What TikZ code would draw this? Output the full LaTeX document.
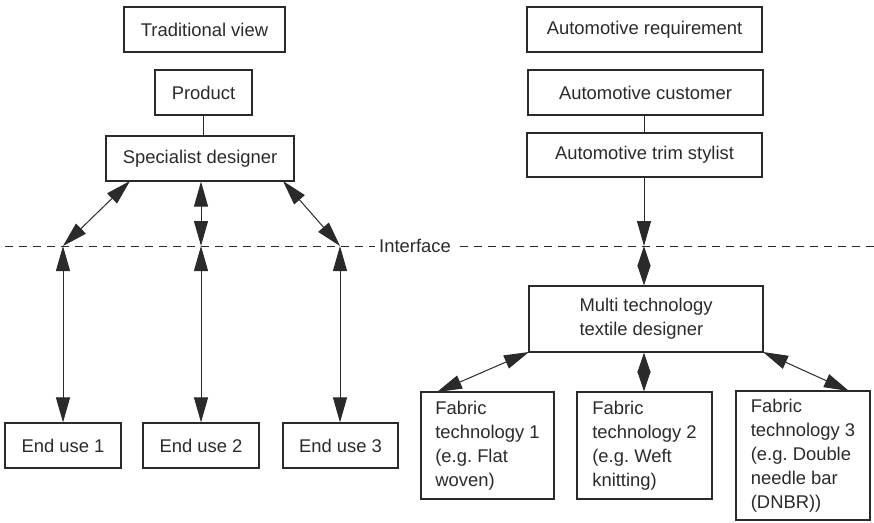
\documentclass[tikz,border=0pt]{standalone}
\usepackage{fontspec}
\setmainfont{Liberation Sans}
\frenchspacing
\usetikzlibrary{arrows.meta}
\definecolor{ink}{HTML}{2A2A2A}
\tikzset{
  box/.style={draw=ink, line width=1.2pt, inner sep=0pt, text=ink,
    font=\fontsize{18.4}{24}\selectfont},
  lbox/.style={box, align=left},
  conn/.style={draw=ink, line width=1pt},
  arr/.style={conn, -{Triangle[length=25pt,width=14pt]}},
  darr/.style={conn, {Triangle[length=25pt,width=14pt]}-{Triangle[length=25pt,width=14pt]}},
  sarr/.style={conn, {Triangle[length=20pt,width=13pt]}-{Triangle[length=20pt,width=13pt]}},
  iface/.style={draw=ink, line width=1pt, dash pattern=on 8pt off 6pt}
}
\begin{document}
\begin{tikzpicture}[x=1pt,y=-1pt]
\useasboundingbox (0,0) rectangle (874,522);
% left column
\node[box, minimum width=161pt, minimum height=45pt] (trad) at (204.5,29.5) {Traditional view};
\node[box, minimum width=97pt, minimum height=45pt] (prod) at (203.5,92.5) {Product};
\node[box, minimum width=188pt, minimum height=45pt] (spec) at (200,158.5) {Specialist designer};
\node[box, minimum width=116pt, minimum height=45pt] (eu1) at (63,445.5) {End use 1};
\node[box, minimum width=116pt, minimum height=45pt] (eu2) at (201,445.5) {End use 2};
\node[box, minimum width=115pt, minimum height=45pt] (eu3) at (340.5,445.5) {End use 3};
% right column
\node[box, minimum width=235pt, minimum height=45pt] (areq) at (644.5,29.5) {Automotive requirement};
\node[box, minimum width=235pt, minimum height=45pt] (acust) at (645.5,92.5) {Automotive customer};
\node[box, minimum width=235pt, minimum height=44pt] (trim) at (644.5,155) {Automotive trim stylist};
\node[lbox, minimum width=234pt, minimum height=66pt] (multi) at (646,319) {Multi technology\\textile designer};
\node[lbox, minimum width=133pt, minimum height=107pt] (ft1) at (487.5,445.5) {Fabric\\technology 1\\(e.g. Flat\\woven)};
\node[lbox, minimum width=135pt, minimum height=107pt] (ft2) at (644.5,445.5) {Fabric\\technology 2\\(e.g. Weft\\knitting)};
\node[lbox, minimum width=134pt, minimum height=129pt] (ft3) at (803,455.5) {Fabric\\technology 3\\(e.g. Double\\needle bar\\(DNBR))};
% interface
\node[text=ink, font=\fontsize{18.4}{24}\selectfont, inner sep=0pt] (ifl) at (415,246) {Interface};
\coordinate (il) at (5,246);
\coordinate (ir) at (874,246);
\draw[iface] (il) -- ([xshift=-4pt]ifl.west);
\draw[iface] ([xshift=9pt]ifl.east) -- (ir);
\coordinate (i1) at (63,246);
\coordinate (i2) at (201,246);
\coordinate (i3) at (340,246);
\coordinate (i4) at (644,246);
\coordinate (s1) at (130,181);
\coordinate (s3) at (283,181);
\coordinate (m1) at (529,352);
\coordinate (m3) at (763,352);
\coordinate (f1) at (437,392);
\coordinate (f3) at (849,391);
% connectors
\draw[conn] (prod.south) -- (prod.south |- spec.north);
\draw[conn] (acust.south -| i4) -- (trim.north -| i4);
\draw[darr] (s1) -- (i1);
\draw[darr] (spec.south -| i2) -- (i2);
\draw[darr] (s3) -- (i3);
\draw[darr] (i1) -- (eu1.north);
\draw[darr] (i2) -- (eu2.north);
\draw[darr] (i3) -- (eu3.north -| i3);
\draw[arr] (trim.south -| i4) -- (i4);
\draw[sarr] (i4) -- (multi.north -| i4);
\draw[darr] (m1) -- (f1);
\draw[sarr] (multi.south -| i4) -- (ft2.north -| i4);
\draw[darr] (m3) -- (f3);
\end{tikzpicture}
\end{document}
